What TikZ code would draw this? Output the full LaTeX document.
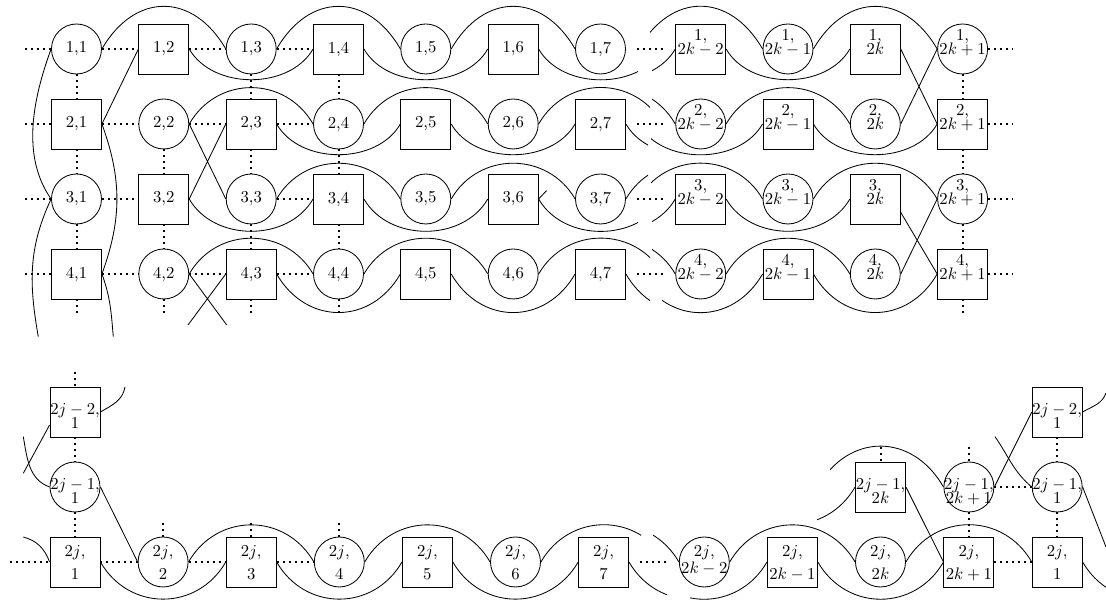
\documentclass[tikz,border=0pt]{standalone}
\newcommand\twl[4]{\makebox[0pt]{\smash{\raisebox{#3}{#1}}}\makebox[0pt]{\smash{\raisebox{#4}{#2}}}}
\begin{document}
\begin{tikzpicture}[x=0.6pt,y=0.6pt,
 cn/.style={draw,circle,minimum size=30pt,inner sep=0pt,line width=0.5pt},
 sq/.style={draw,rectangle,minimum size=30pt,inner sep=0pt,line width=0.5pt},
 dl/.style={line width=1.2pt,dash pattern=on 1.2pt off 2.4pt},
 ln/.style={line width=0.5pt},
 ov/.style={ln,out=60,in=120,looseness=#1}, ov/.default=1,
 un/.style={ln,out=-60,in=-120,looseness=#1}, un/.default=1]
\useasboundingbox (0,0) rectangle (1106,602);
\clip (0,0) rectangle (1106,602);
% ---------------- top part: nodes ----------------
\foreach \i/\y in {1/553,2/478,3/403,4/328}{
  \foreach \j/\x in {1/76.5,2/163.8,3/251.2,4/338.5,5/425.8,6/513.2,7/600.5}{
    \pgfmathtruncatemacro\pp{mod(\i+\j,2)}
    \ifnum\pp=0 \node[cn] (n\i\j) at (\x,\y) {\i,\j};
    \else \node[sq] (n\i\j) at (\x,\y) {\i,\j}; \fi
  }
  \foreach \j/\x/\lb/\q in {A/700.7/{2k-2}/0,B/788/{2k-1}/1,C/875.3/{2k}/0,D/962.6/{2k+1}/1}{
    \pgfmathtruncatemacro\pp{mod(\i+\q,2)}
    \ifnum\pp=0 \node[cn] (n\i\j) at (\x,\y) {\twl{\i,}{$\lb$}{5.2pt}{-3.4pt}};
    \else \node[sq] (n\i\j) at (\x,\y) {\twl{\i,}{$\lb$}{5.2pt}{-3.4pt}}; \fi
  }
  \coordinate (S\i) at (25,\y);
  \coordinate (E\i) at (1013,\y);
  \coordinate (G\i) at (637,\y);
  \coordinate (H\i) at (665,\y);
  \coordinate (L\i6) at (662.9,\y);
  \coordinate (L\i7) at (750.2,\y);
  \coordinate (R\i3) at (638.4,\y);
  \coordinate (R\i4) at (551,\y);
  \draw[dl] (S\i) -- (n\i1);
  \draw[dl] (n\i1) -- (n\i2);
  \draw[dl] (G\i) -- (H\i);
  \draw[dl] (n\i D) -- (E\i);
}
% dotted, top part
\draw[dl] (n12) -- (n13) (n13) -- (n14);
\draw[dl] (n22) -- (n23) (n23) -- (n24);
\draw[dl] (n33) -- (n34);
\draw[dl] (n42) -- (n43) (n43) -- (n44);
\foreach \j in {1,3,4,D}{
  \draw[dl] (n1\j) -- (n2\j) (n2\j) -- (n3\j) (n3\j) -- (n4\j);
}
\draw[dl] (n22) -- (n32) (n32) -- (n42);
\coordinate (D1) at (76.5,289);
\coordinate (D2) at (163.8,289);
\coordinate (D3) at (251.2,289);
\coordinate (D4) at (338.5,289);
\coordinate (D5) at (962.6,289);
\draw[dl] (n41) -- (D1) (n42) -- (D2) (n43) -- (D3) (n44) -- (D4) (n4D) -- (D5);
% ---------------- top part: row 1 ----------------
\draw[ov=1.36] (n11.east) to (n13.west) (n13.east) to (n15.west) (n15.east) to (n17.west) (n1B.east) to (n1D.west);
\draw[un=0.98] (n12.east) to (n14.west) (n14.east) to (n16.west) (n1A.east) to (n1C.west);
\begin{scope}\clip (0,0) rectangle (638,602); \draw[un=0.98] (n16.east) to (L16); \end{scope}
\begin{scope}\clip (650,0) rectangle (1106,602); \draw[ov=1.36] (R13) to (n1B.west); \end{scope}
\begin{scope}\clip (652,0) rectangle (1106,602); \draw[un=0.98] (R14) to (n1A.west); \end{scope}
% row 2
\draw[ov=1.16] (n22.east) to (n24.west) (n24.east) to (n26.west) (n2A.east) to (n2C.west);
\draw[un=0.98] (n23.east) to (n25.west) (n25.east) to (n27.west) (n2B.east) to (n2D.west);
\begin{scope}\clip (0,0) rectangle (650,602); \draw[ov=1.16] (n26.east) to (L26); \end{scope}
\begin{scope}\clip (0,0) rectangle (648,602); \draw[un=0.98] (n27.east) to (L27); \end{scope}
\begin{scope}\clip (652,0) rectangle (1106,602); \draw[ov=1.16] (R24) to (n2A.west); \end{scope}
\begin{scope}\clip (651,0) rectangle (1106,602); \draw[un=0.98] (R23) to (n2B.west); \end{scope}
% row 3
\draw[ov=1.14] (n33.east) to (n35.west) (n35.east) to (n37.west) (n3B.east) to (n3D.west);
\draw[un=1.03] (n32.east) to (n34.west) (n34.east) to (n36.west) (n3A.east) to (n3C.west);
\begin{scope}\clip (0,0) rectangle (638,602); \draw[un=1.03] (n36.east) to (L36); \end{scope}
\begin{scope}\clip (0,0) rectangle (648,602); \draw[ov=1.14] (n37.east) to (L37); \end{scope}
\begin{scope}\clip (651,0) rectangle (1106,602); \draw[ov=1.14] (R33) to (n3B.west); \end{scope}
\begin{scope}\clip (652,0) rectangle (1106,602); \draw[un=1.03] (R34) to (n3A.west); \end{scope}
% row 4
\draw[ov=1.14] (n42.east) to (n44.west) (n44.east) to (n46.west) (n4A.east) to (n4C.west);
\draw[un=1.23] (n43.east) to (n45.west) (n45.east) to (n47.west) (n4B.east) to (n4D.west);
\begin{scope}\clip (0,0) rectangle (650,602); \draw[ov=1.14] (n46.east) to (L46); \draw[un=1.23] (n47.east) to (L47); \end{scope}
\begin{scope}\clip (652,0) rectangle (1106,602); \draw[ov=1.14] (R44) to (n4A.west); \end{scope}
\begin{scope}\clip (662,0) rectangle (1106,602); \draw[un=1.23] (R43) to (n4B.west); \end{scope}
% straight lines
\coordinate (X1) at (226.7,277);
\coordinate (X2) at (188,277);
\coordinate (X3) at (546.5,411.3);
\draw[ln] (n21.east) -- (n12.west) (n22.east) -- (n33.west) (n32.east) -- (n23.west)
  (n1C.east) -- (n2D.west) (n2C.east) -- (n1D.west) ([yshift=-8pt]n3C.east) -- (n4D.west) (n4C.east) -- (n3D.west)
  (n42.east) -- (X1) (n43.west) -- (X2) (n36.east) -- (X3);
% column 1 curves
\coordinate (P1) at (38.3,265.3);
\coordinate (P2) at (113.3,265.3);
\draw[ln] (n11.west) to[out=-110,in=125,looseness=0.9] (n31.west);
\draw[ln] (n31.west) to[out=-115,in=100] (P1);
\draw[ln] (n21.east) to[out=-70,in=70] (n41.east);
\draw[ln] (n41.east) to[out=-70,in=95] (P2);
% ---------------- bottom part: nodes ----------------
\node[sq] (a1) at (75,190) {\twl{$2j-2$,}{1}{-1.8pt}{-10pt}};
\node[cn] (b1) at (75,115) {\twl{$2j-1$,}{1}{-1.8pt}{-10pt}};
\node[sq] (c1) at (75,40) {\twl{$2j$,}{1}{3pt}{-10.3pt}};
\node[cn] (c2) at (163.1,40) {\twl{$2j$,}{2}{3pt}{-10.3pt}};
\node[sq] (c3) at (251.2,40) {\twl{$2j$,}{3}{3pt}{-10.3pt}};
\node[cn] (c4) at (339.3,40) {\twl{$2j$,}{4}{3pt}{-10.3pt}};
\node[sq] (c5) at (427.4,40) {\twl{$2j$,}{5}{3pt}{-10.3pt}};
\node[cn] (c6) at (515.5,40) {\twl{$2j$,}{6}{3pt}{-10.3pt}};
\node[sq] (c7) at (603.6,40) {\twl{$2j$,}{7}{3pt}{-10.3pt}};
\node[cn] (cA) at (704.3,40) {\twl{$2j$,}{$2k-2$}{3.4pt}{-6.8pt}};
\node[sq] (cB) at (792.4,40) {\twl{$2j$,}{$2k-1$}{3pt}{-10.3pt}};
\node[cn] (cC) at (880.5,40) {\twl{$2j$,}{$2k$}{3pt}{-10.3pt}};
\node[sq] (cD) at (968.9,40) {\twl{$2j$,}{$2k+1$}{3pt}{-10.3pt}};
\node[sq] (cE) at (1057.2,40) {\twl{$2j$,}{1}{3pt}{-10.3pt}};
\node[sq] (bC) at (880.5,115) {\twl{$2j-1$,}{$2k$}{-1.8pt}{-10pt}};
\node[cn] (bD) at (968.9,115) {\twl{$2j-1$,}{$2k+1$}{-1.8pt}{-10pt}};
\node[cn] (bE) at (1057.2,115) {\twl{$2j-1$,}{1}{-1.8pt}{-10pt}};
\node[sq] (aE) at (1057.2,190) {\twl{$2j-2$,}{1}{-1.8pt}{-10pt}};
% bottom dotted
\coordinate (U1) at (75,230);
\coordinate (U2) at (10,40);
\coordinate (V2) at (163.1,79);
\coordinate (V3) at (251.2,79);
\coordinate (V4) at (339.3,79);
\coordinate (G5) at (640,40);
\coordinate (H5) at (668,40);
\coordinate (W1) at (880.5,155);
\coordinate (W2) at (968.9,155);
\draw[dl] (U1) -- (a1) (a1) -- (b1) (b1) -- (c1) (U2) -- (c1) (c1) -- (c2) (c2) -- (c3) (c3) -- (c4)
  (V2) -- (c2) (V3) -- (c3) (V4) -- (c4) (G5) -- (H5) (cD) -- (cE) (bD) -- (bE)
  (W1) -- (bC) (W2) -- (bD) (bD) -- (cD) (aE) -- (bE) (bE) -- (cE);
% bottom arcs
\coordinate (Lc6) at (666.7,40);
\coordinate (Lc7) at (754.8,40);
\coordinate (Rc4) at (553.1,40);
\coordinate (Rc3) at (641.2,40);
\coordinate (RcE) at (1208.4,40);
\coordinate (Rb3) at (817.4,115);
\coordinate (Rb4) at (729.4,115);
\draw[un=1.17] (c1.east) to (c3.west) (c3.east) to (c5.west) (c5.east) to (c7.west) (cB.east) to (cD.west) (cE.east) to (RcE);
\draw[ov=1.17] (c2.east) to (c4.west) (c4.east) to (c6.west) (cA.east) to (cC.west) (cC.east) to (cE.west);
\begin{scope}\clip (0,0) rectangle (641,602); \draw[ov=1.17] (c6.east) to (Lc6); \end{scope}
\begin{scope}\clip (0,0) rectangle (667,602); \draw[un=1.17] (c7.east) to (Lc7); \end{scope}
\begin{scope}\clip (653,0) rectangle (1106,602); \draw[ov=1.17] (Rc4) to (cA.west); \end{scope}
\begin{scope}\clip (690,0) rectangle (1106,602); \draw[un=1.17] (Rc3) to (cB.west); \end{scope}
\begin{scope}\clip (830,0) rectangle (1106,602); \draw[ov=1.28] (Rb3) to (bD.west); \end{scope}
\begin{scope}\clip (817,0) rectangle (1106,602); \draw[un=1.17] (Rb4) to (bC.west); \end{scope}
% bottom lines and loose curves
\coordinate (Q1) at (1106,55);
\coordinate (Q2) at (23.3,128.7);
\coordinate (T1) at (23.3,165.3);
\coordinate (T2) at (995,165.3);
\coordinate (T3) at (23.3,65);
\coordinate (T4) at (125,215);
\coordinate (T5) at (1106,209);
\draw[ln] (bC.east) -- (cD.west) (bD.east) -- (aE.west) (b1.east) -- (c2.west) (bE.east) -- (Q1)
  ([yshift=-7.8pt]a1.west) -- (Q2);
\draw[ln] (T1) to[out=-80,in=160] (b1.west);
\draw[ln] (T2) to[out=-55,in=140] (bE.west);
\draw[ln] (T3) to[out=-15,in=110] (c1.west);
\draw[ln] (a1.east) to[out=30,in=-100] (T4);
\draw[ln] (aE.east) to[out=30,in=-110] (T5);
\end{tikzpicture}
\end{document}
